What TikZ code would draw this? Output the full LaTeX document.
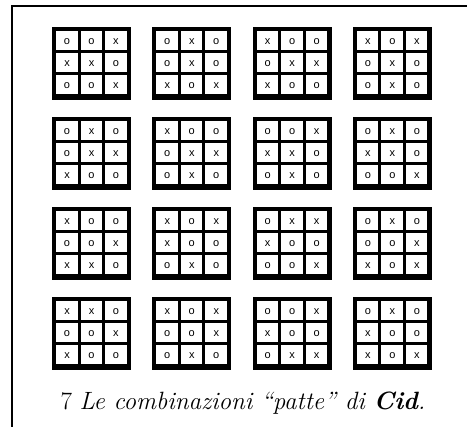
\documentclass[tikz,border=0pt]{standalone}
\usepackage{fontspec}
\newfontfamily\cellfont{Liberation Sans}
\usetikzlibrary{positioning}

% one tic-tac-toe board: name, left, top, list macro of nine signs
\newcommand\tttboard[4]{%
  \fill[board] (#2,#3) rectangle ++(79,73);
  \foreach \m [count=\k from 0] in #4 {
    \pgfmathtruncatemacro\cc{mod(\k,3)}
    \pgfmathtruncatemacro\rr{int(\k/3)}
    \fill[cell] (#2+4+24.5*\cc,#3+4.5+22*\rr) rectangle ++(21.5,19);
    \node[sign] (#1-\k) at (#2+15+24.5*\cc,#3+14.5+22*\rr) {\m};
  }
}

\begin{document}
\begin{tikzpicture}[
    x=1pt, y=-1pt,
    board/.style={fill=black},
    cell/.style={fill=white},
    sign/.style={
        inner sep=0pt,
        font=\cellfont\fontsize{11}{13}\selectfont
    },
    caption/.style={
        anchor=base,
        inner sep=0pt,
        font=\fontsize{25}{29}\selectfont
    }
]
\useasboundingbox (0,0) rectangle (467,427);

\draw[line width=2pt] (467,6) -- (12,6) -- (12,427);

\foreach \lst [count=\n from 0] in {
    {o,o,x,x,x,o,o,o,x}, {o,x,o,o,x,o,x,o,x}, {x,o,o,o,x,x,x,o,o}, {x,o,x,o,x,o,o,x,o},
    {o,x,o,o,x,x,x,o,o}, {x,o,o,o,x,x,o,x,o}, {o,o,x,x,x,o,o,x,o}, {o,x,o,x,x,o,o,o,x},
    {x,o,o,o,o,x,x,x,o}, {x,o,x,x,o,o,o,x,o}, {o,x,x,x,o,o,o,o,x}, {o,x,o,o,o,x,x,o,x},
    {x,x,o,o,o,x,x,o,o}, {x,o,x,o,o,x,o,x,o}, {o,o,x,x,o,o,o,x,x}, {o,x,o,x,o,o,x,o,x}} {
  \pgfmathsetmacro\gx{52+100.3*mod(\n,4)}
  \pgfmathsetmacro\gy{27+90*int(\n/4)}
  \tttboard{b\n}{\gx}{\gy}{\lst}
}

\node[caption] (cap) at (243,410) {7 \textit{Le combinazioni “patte” di \textbf{Cid}.}};

\end{tikzpicture}
\end{document}
